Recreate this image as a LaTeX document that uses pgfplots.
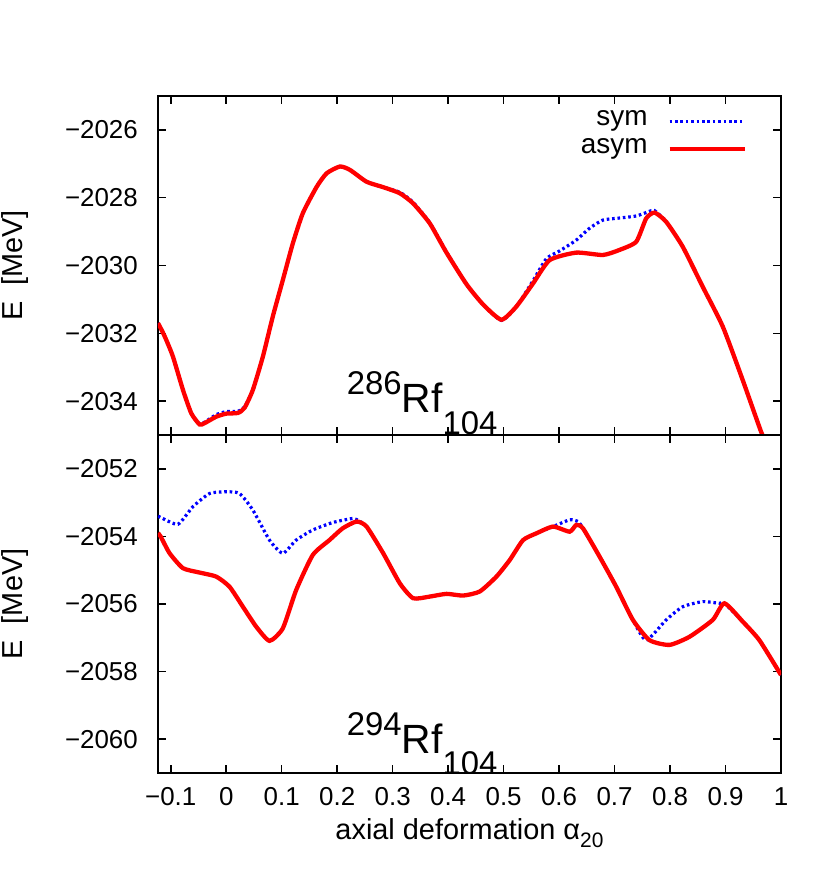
\documentclass[border=0pt]{standalone}
\usepackage{fontspec}
\setmainfont{Liberation Sans}
\usepackage{pgfplots}
\pgfplotsset{compat=1.18}

\pgfplotstableread{
x y
-0.123 -2031.70
-0.115 -2031.95
-0.108 -2032.20
-0.096 -2032.69
-0.078 -2033.67
-0.063 -2034.36
-0.048 -2034.69
-0.039 -2034.65
-0.018 -2034.46
0.000 -2034.37
0.021 -2034.35
0.033 -2034.20
0.048 -2033.67
0.066 -2032.69
0.084 -2031.50
0.102 -2030.43
0.120 -2029.35
0.138 -2028.46
0.163 -2027.68
0.181 -2027.28
0.205 -2027.08
0.223 -2027.18
0.253 -2027.53
0.283 -2027.69
0.313 -2027.87
0.337 -2028.17
0.367 -2028.76
0.397 -2029.62
0.433 -2030.55
0.463 -2031.15
0.496 -2031.60
0.523 -2031.21
0.553 -2030.53
0.583 -2029.84
0.631 -2029.62
0.679 -2029.69
0.709 -2029.54
0.739 -2029.30
0.757 -2028.61
0.772 -2028.44
0.793 -2028.71
0.823 -2029.45
0.859 -2030.63
0.895 -2031.80
0.931 -2033.38
0.964 -2034.90
0.975 -2035.30
}\topasym

\pgfplotstableread{
x y
-0.123 -2031.70
-0.115 -2031.95
-0.108 -2032.20
-0.096 -2032.69
-0.078 -2033.67
-0.063 -2034.36
-0.048 -2034.67
-0.039 -2034.62
-0.018 -2034.40
0.000 -2034.31
0.021 -2034.30
0.033 -2034.17
0.048 -2033.67
0.066 -2032.69
0.084 -2031.50
0.102 -2030.43
0.120 -2029.35
0.138 -2028.46
0.163 -2027.68
0.181 -2027.28
0.205 -2027.08
0.223 -2027.18
0.253 -2027.53
0.283 -2027.69
0.313 -2027.84
0.337 -2028.14
0.367 -2028.74
0.397 -2029.60
0.433 -2030.55
0.463 -2031.15
0.496 -2031.62
0.523 -2031.21
0.553 -2030.45
0.577 -2029.80
0.600 -2029.58
0.631 -2029.25
0.655 -2028.90
0.679 -2028.66
0.709 -2028.60
0.739 -2028.54
0.760 -2028.42
0.772 -2028.38
0.793 -2028.71
0.823 -2029.45
0.859 -2030.63
0.895 -2031.80
0.931 -2033.38
0.964 -2034.90
0.975 -2035.30
}\topsym

\pgfplotstableread{
x y
-0.123 -2053.90
-0.118 -2054.01
-0.102 -2054.50
-0.078 -2054.94
-0.048 -2055.07
-0.018 -2055.19
0.006 -2055.49
0.030 -2056.08
0.054 -2056.67
0.078 -2057.09
0.102 -2056.72
0.126 -2055.59
0.156 -2054.55
0.186 -2054.11
0.210 -2053.76
0.235 -2053.56
0.253 -2053.71
0.283 -2054.50
0.313 -2055.39
0.337 -2055.83
0.367 -2055.78
0.397 -2055.70
0.427 -2055.75
0.457 -2055.63
0.487 -2055.19
0.511 -2054.70
0.535 -2054.11
0.559 -2053.91
0.589 -2053.71
0.619 -2053.86
0.631 -2053.66
0.643 -2053.76
0.673 -2054.60
0.703 -2055.49
0.733 -2056.47
0.763 -2057.07
0.799 -2057.21
0.835 -2056.97
0.877 -2056.47
0.898 -2055.98
0.931 -2056.52
0.961 -2057.07
1.000 -2058.10
}\botasym

\pgfplotstableread{
x y
-0.123 -2053.40
-0.118 -2053.44
-0.087 -2053.64
-0.060 -2053.12
-0.030 -2052.73
0.000 -2052.68
0.024 -2052.73
0.048 -2053.22
0.078 -2054.11
0.102 -2054.50
0.126 -2054.11
0.156 -2053.81
0.192 -2053.59
0.228 -2053.47
0.240 -2053.55
0.253 -2053.71
0.283 -2054.50
0.313 -2055.39
0.337 -2055.83
0.367 -2055.78
0.397 -2055.70
0.427 -2055.75
0.457 -2055.63
0.487 -2055.19
0.511 -2054.70
0.535 -2054.11
0.559 -2053.91
0.589 -2053.71
0.619 -2053.51
0.634 -2053.56
0.643 -2053.76
0.673 -2054.60
0.703 -2055.49
0.733 -2056.47
0.757 -2057.07
0.793 -2056.47
0.823 -2056.08
0.859 -2055.93
0.889 -2055.98
0.898 -2055.98
0.931 -2056.52
0.961 -2057.07
1.000 -2058.10
}\botsym

\begin{document}
\begin{tikzpicture}
\path[use as bounding box] (-158bp,-436bp) rectangle (672bp,435bp);
\pgfplotsset{
  common/.style={
    scale only axis, width=623bp,
    xmin=-0.123, xmax=1,
    xtick={-0.1,0,0.1,0.2,0.3,0.4,0.5,0.6,0.7,0.8,0.9,1},
    tick align=inside, major tick length=8bp,
    every tick/.style={line width=1.5bp, black},
    axis line style={line width=2bp},
    tick label style={font=\fontsize{26}{26}\selectfont},
    yticklabel style={inner sep=0pt, xshift=-20bp},
    xticklabel style={inner sep=0pt, yshift=-14bp},
    label style={font=\fontsize{29}{29}\selectfont},
    ylabel style={at={(axis description cs:-0.2295,0.5)}, anchor=center},
    ylabel={E\ \ [MeV]},
    symst/.style={blue, line width=3.2bp, dash pattern=on 2.6bp off 2.8bp, smooth, tension=0.35},
    asymst/.style={red, line width=4.3bp, smooth, tension=0.35},
  }
}
\begin{axis}[common, name=top, height=339bp,
  ymin=-2035, ymax=-2025, ytick={-2034,-2032,-2030,-2028,-2026},
  yticklabels={−2034,−2032,−2030,−2028,−2026},
  xticklabels={},
  legend plot pos=right,
  legend image code/.code={\draw[#1] (0bp,0bp) -- (75bp,0bp);},
  legend style={at={(rel axis cs:1,1)}, anchor=north east, xshift=-34bp, yshift=-15bp,
    draw=none, fill=none, inner sep=0pt, font=\fontsize{28}{28}\selectfont,
    row sep=8bp, column sep=20bp, nodes={inner sep=0pt, text height=14bp, text depth=6bp},
    cells={anchor=east}},
]
\addplot[symst] table {\topsym};
\addlegendentry{sym}
\addplot[asymst] table {\topasym};
\addlegendentry{asym}
\node[anchor=base west, inner sep=0pt, font=\fontsize{41}{41}\selectfont] at (axis cs:0.217,-2034.35)
  {\raisebox{18bp}{\fontsize{33}{33}\selectfont 286}Rf\raisebox{-22bp}{\fontsize{33}{33}\selectfont 104}};
\end{axis}
\begin{axis}[common, at={(top.south west)}, anchor=north west, height=338bp,
  ymin=-2061, ymax=-2051, ytick={-2060,-2058,-2056,-2054,-2052},
  yticklabels={−2060,−2058,−2056,−2054,−2052},
  xticklabels={−0.1,0,0.1,0.2,0.3,0.4,0.5,0.6,0.7,0.8,0.9,1},
  xlabel={axial deformation α\raisebox{-0.28em}{\fontsize{21}{21}\selectfont 20}},
  xlabel style={at={(axis description cs:0.5,0)}, anchor=north, inner sep=0pt, yshift=-45bp},
]
\addplot[symst] table {\botsym};
\addplot[asymst] table {\botasym};
\node[anchor=base west, inner sep=0pt, font=\fontsize{41}{41}\selectfont] at (axis cs:0.217,-2060.41)
  {\raisebox{18bp}{\fontsize{33}{33}\selectfont 294}Rf\raisebox{-21bp}{\fontsize{33}{33}\selectfont 104}};
\end{axis}
\end{tikzpicture}
\end{document}
